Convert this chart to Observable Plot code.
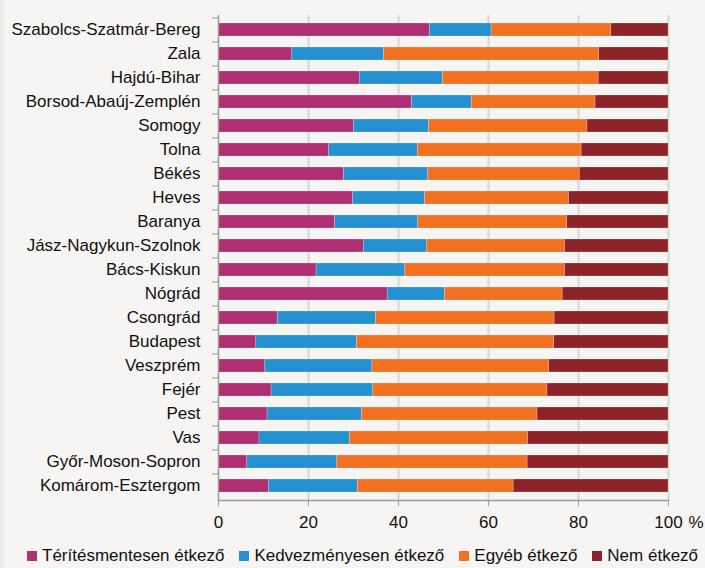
<!DOCTYPE html>
<html>
<head>
<meta charset="utf-8">
<script src="https://cdn.jsdelivr.net/npm/d3@7"></script>
<script src="https://cdn.jsdelivr.net/npm/@observablehq/plot@0.6"></script>
<style>
  html, body { margin: 0; padding: 0; background: linear-gradient(to right, #eeedeb 0, #eeedeb 4px, #f6f5f3 4px); }
  #chart { width: 705px; height: 568px; position: relative; font-family: "Liberation Sans", Arial, sans-serif; color: #111; }
  #chart svg { display: block; }
  .legend { white-space: nowrap; font-size: 17px; line-height: 20px; padding-left: 27px; padding-top: 4px; }
  .legend .item { display: inline-block; margin-right: 15px; }
  .legend .sw { display: inline-block; width: 10px; height: 10px; margin-right: 5px; vertical-align: baseline; }
</style>
</head>
<body>
<div id="chart"></div>
<script>
const counties = [
  "Szabolcs-Szatmár-Bereg", "Zala", "Hajdú-Bihar", "Borsod-Abaúj-Zemplén", "Somogy",
  "Tolna", "Békés", "Heves", "Baranya", "Jász-Nagykun-Szolnok",
  "Bács-Kiskun", "Nógrád", "Csongrád", "Budapest", "Veszprém",
  "Fejér", "Pest", "Vas", "Győr-Moson-Sopron", "Komárom-Esztergom"
];
const series = ["Térítésmentesen étkező", "Kedvezményesen étkező", "Egyéb étkező", "Nem étkező"];
const free       = [47.0, 16.4, 31.4, 43.0, 30.1, 24.6, 27.9, 29.9, 25.9, 32.3, 21.8, 37.6, 13.2, 8.4, 10.4, 11.8, 10.9, 9.1, 6.4, 11.2];
const discounted = [13.7, 20.4, 18.5, 13.3, 16.7, 19.7, 18.7, 16.0, 18.5, 14.1, 19.7, 12.7, 21.8, 22.4, 23.8, 22.6, 21.0, 20.1, 20.0, 19.8];
const other      = [26.6, 47.8, 34.6, 27.5, 35.2, 36.4, 33.7, 32.0, 33.1, 30.6, 35.5, 26.2, 39.7, 43.8, 39.3, 38.7, 39.0, 39.6, 42.3, 34.6];
const none       = [12.7, 15.4, 15.5, 16.2, 18.0, 19.3, 19.7, 22.1, 22.5, 23.0, 23.0, 23.5, 25.3, 25.4, 26.5, 26.9, 29.1, 31.2, 31.3, 34.4];
const colors = ["#b02e72", "#2591d0", "#f37021", "#8c2328"];
const xTicks = [0, 20, 40, 60, 80, 100];
const unitLabel = "%";

const valuesBySeries = [free, discounted, other, none];
const data = counties.flatMap((c, i) => series.map((s, j) => ({county: c, series: s, value: valuesBySeries[j][i]})));

const H = 542, MT = 15, MB = 42;
const step = (H - MT - MB) / counties.length;
const font = "\"Liberation Sans\", Arial, sans-serif";

const chart = Plot.plot({
  width: 705,
  height: H,
  marginLeft: 218,
  marginRight: 37,
  marginTop: MT,
  marginBottom: MB,
  style: {background: "transparent", fontFamily: font, fontSize: "17px", color: "#111"},
  x: {domain: [0, 100], ticks: xTicks},
  y: {domain: counties, paddingInner: 0.45, paddingOuter: 0.225},
  color: {domain: series, range: colors},
  marks: [
    Plot.gridX(xTicks.slice(1), {stroke: "#d6d6d6", strokeWidth: 2, strokeOpacity: 1}),
    Plot.barX(data, {x: "value", y: "county", fill: "series", order: series, stroke: "#ffffff", strokeOpacity: 0.35, strokeWidth: 0.6}),
    Plot.ruleX([0], {stroke: "#9a9a9a", strokeWidth: 1.5}),
    Plot.frame({anchor: "bottom", stroke: "#9a9a9a", strokeWidth: 1.5}),
    Plot.axisX(xTicks, {tickSize: 6, tickPadding: 9, stroke: "#9a9a9a", fill: "#111", tickFormat: d => String(d), label: null}),
    Plot.text([100], {x: d => d, frameAnchor: "bottom", text: () => unitLabel, dx: 20, dy: 15, lineAnchor: "top", textAnchor: "start", fill: "#111", fontSize: 17}),
    Plot.axisY({tickSize: 0, tickPadding: 18, fill: "#111", label: null}),
    Plot.axisY({tickSize: 6, tickFormat: () => "", stroke: "#9a9a9a", dy: -step / 2, label: null})
  ]
});

const root = document.getElementById("chart");
root.appendChild(chart);
const legend = document.createElement("div");
legend.className = "legend";
series.forEach((s, i) => {
  const item = document.createElement("span");
  item.className = "item";
  const sw = document.createElement("span");
  sw.className = "sw";
  sw.style.background = colors[i];
  const t = document.createElement("span");
  t.textContent = s;
  item.appendChild(sw);
  item.appendChild(t);
  legend.appendChild(item);
});
root.appendChild(legend);
</script>
</body>
</html>
